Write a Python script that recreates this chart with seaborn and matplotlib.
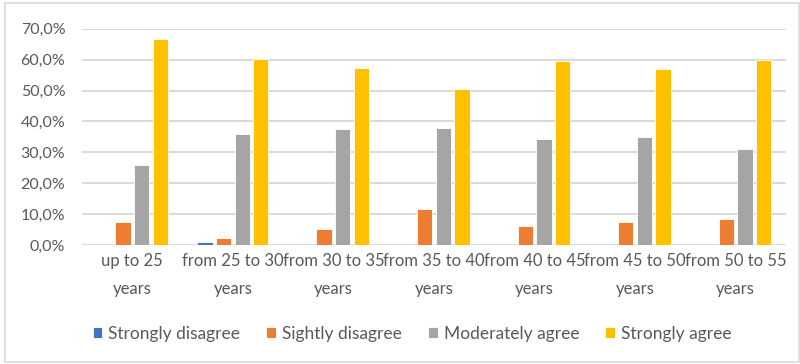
import matplotlib
matplotlib.use("Agg")
import matplotlib.pyplot as plt
from matplotlib.patches import Rectangle
from matplotlib.ticker import FuncFormatter
import seaborn as sns
import pandas as pd

# Age groups and share of answers per agreement level
age_groups = ["up to 25\nyears", "from 25 to 30\nyears", "from 30 to 35\nyears",
              "from 35 to 40\nyears", "from 40 to 45\nyears", "from 45 to 50\nyears",
              "from 50 to 55\nyears"]
levels = ["Strongly disagree", "Sightly disagree", "Moderately agree", "Strongly agree"]
strongly_disagree = [0.000, 0.011, 0.000, 0.000, 0.000, 0.000, 0.000]
slightly_disagree = [0.074, 0.022, 0.053, 0.115, 0.060, 0.074, 0.084]
moderately_agree = [0.259, 0.360, 0.374, 0.379, 0.343, 0.350, 0.311]
strongly_agree = [0.668, 0.602, 0.574, 0.504, 0.595, 0.570, 0.599]
colors = ["#4472C4", "#ED7D31", "#A5A5A5", "#FFC000"]

rows = []
for lvl, vals in zip(levels, [strongly_disagree, slightly_disagree,
                              moderately_agree, strongly_agree]):
    for g, v in zip(age_groups, vals):
        rows.append({"group": g, "level": lvl, "share": v})
df = pd.DataFrame(rows)

sns.set_theme(style="white")
plt.rcParams["font.family"] = ["Lato", "DejaVu Sans"]
text_color = "#595959"

fig = plt.figure(figsize=(8.0, 3.64), dpi=100)
ax = fig.add_axes([0.1025, 0.327, 0.88, 0.594])

sns.barplot(data=df, x="group", y="share", hue="level", order=age_groups,
            hue_order=levels, palette=colors, width=0.74, gap=0.18,
            saturation=1, edgecolor="white", linewidth=0.6, ax=ax, zorder=3)

ax.set_ylim(0, 0.7)
ax.set_xlim(-0.5, len(age_groups) - 0.5)
ax.set_yticks([i / 10 for i in range(8)])
ax.yaxis.set_major_formatter(FuncFormatter(lambda v, p: f"{v * 100:.1f}%".replace(".", ",")))
ax.grid(axis="y", color="#D9D9D9", linewidth=1.4, zorder=0)
ax.set_axisbelow(True)
for s in ax.spines.values():
    s.set_visible(False)
ax.set_xlabel("")
ax.set_ylabel("")
ax.tick_params(axis="y", length=0, pad=12, labelsize=11.5, labelcolor=text_color)
ax.tick_params(axis="x", length=0, pad=6, labelsize=12, labelcolor=text_color)
for lab in ax.get_xticklabels():
    lab.set_linespacing(1.9)

ax.legend(loc="center", bbox_to_anchor=(0.469, -0.41), ncol=4, frameon=False,
          fontsize=12.5, labelcolor=text_color, handlelength=0.55, handleheight=0.55,
          handletextpad=0.35, columnspacing=1.5)

fig.patches.append(Rectangle((5 / 800, 2 / 364), 794 / 800, 359 / 364,
                             transform=fig.transFigure, fill=False,
                             edgecolor="#D9D9D9", linewidth=1.2))

fig.savefig("out.png", dpi=100)
